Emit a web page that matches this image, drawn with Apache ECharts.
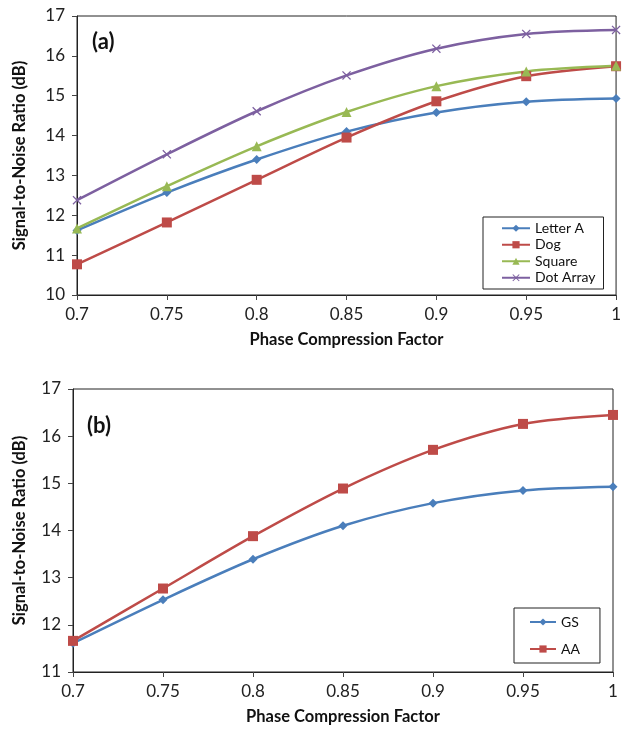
<!DOCTYPE html>
<html>
<head>
<meta charset="utf-8">
<script src="https://cdn.jsdelivr.net/npm/echarts@6/dist/echarts.min.js"></script>
<style>
  html, body { margin: 0; padding: 0; background: #fff; }
  #chart { width: 624px; height: 730px; }
</style>
</head>
<body>
<div id="chart"></div>
<script>
// phase compression factor (x axis)
const factors = ['0.7', '0.75', '0.8', '0.85', '0.9', '0.95', '1']

// panel (a)
const letterA = [11.62, 12.57, 13.40, 14.10, 14.58, 14.85, 14.93]
const dog = [10.77, 11.82, 12.89, 13.95, 14.86, 15.49, 15.74]
const square = [11.67, 12.73, 13.73, 14.59, 15.24, 15.61, 15.75]
const dotArray = [12.38, 13.53, 14.61, 15.51, 16.18, 16.55, 16.65]

// panel (b)
const gs = [11.61, 12.53, 13.39, 14.10, 14.58, 14.85, 14.93]
const aa = [11.66, 12.77, 13.88, 14.89, 15.71, 16.26, 16.45]

const FONT = 'Lato, "Open Sans", sans-serif'
const crossPath = 'path://M0,1L1,0L5,4L9,0L10,1L6,5L10,9L9,10L5,6L1,10L0,9L4,5Z'

function xAxisOf (gridIndex, nameGap) {
  return {
    gridIndex: gridIndex,
    type: 'category',
    data: factors,
    boundaryGap: false,
    name: 'Phase Compression Factor',
    nameLocation: 'middle',
    nameGap: nameGap,
    nameTextStyle: { fontFamily: FONT, fontWeight: 'bold', fontSize: 16.5, color: '#111' },
    axisLine: { lineStyle: { color: '#222', width: 1 } },
    axisTick: { show: true, inside: false, length: 5, lineStyle: { color: '#444' } },
    axisLabel: { fontFamily: FONT, fontSize: 17, color: '#222', margin: 11 },
    splitLine: { show: false }
  }
}

function yAxisOf (gridIndex, min, max, nameGap) {
  return {
    gridIndex: gridIndex,
    type: 'value',
    min: min,
    max: max,
    interval: 1,
    name: 'Signal-to-Noise Ratio (dB)',
    nameLocation: 'middle',
    nameGap: nameGap,
    nameTextStyle: { fontFamily: FONT, fontWeight: 'bold', fontSize: 16.5, color: '#111' },
    axisLine: { show: true, lineStyle: { color: '#222', width: 1 } },
    axisTick: { show: true, inside: false, length: 5, lineStyle: { color: '#444' } },
    axisLabel: { fontFamily: FONT, fontSize: 17, color: '#222', margin: 12 },
    splitLine: { show: false }
  }
}

function lineSeries (name, data, color, symbol, size, axisIdx) {
  return {
    name: name,
    type: 'line',
    xAxisIndex: axisIdx,
    yAxisIndex: axisIdx,
    data: data,
    smooth: 0.3,
    symbol: symbol,
    symbolSize: size,
    showAllSymbol: true,
    lineStyle: { color: color, width: 2.5 },
    itemStyle: { color: color },
    emphasis: { disabled: true }
  }
}

const legendText = { fontFamily: FONT, fontSize: 14, color: '#111' }

const option = {
  animation: false,
  backgroundColor: '#fff',
  title: [
    { text: '(a)', left: 87, top: 26, textStyle: { fontFamily: FONT, fontWeight: 'bold', fontSize: 22, color: '#111' } },
    { text: '(b)', left: 82, top: 410, textStyle: { fontFamily: FONT, fontWeight: 'bold', fontSize: 22, color: '#111' } }
  ],
  grid: [
    { left: 77, top: 16, width: 540, height: 279, show: true, borderColor: '#222', borderWidth: 1, backgroundColor: 'transparent' },
    { left: 73, top: 389, width: 540, height: 283, show: true, borderColor: '#222', borderWidth: 1, backgroundColor: 'transparent' }
  ],
  xAxis: [xAxisOf(0, 36), xAxisOf(1, 36)],
  yAxis: [yAxisOf(0, 10, 17, 49), yAxisOf(1, 11, 17, 45)],
  legend: [
    {
      data: ['Letter A', 'Dog', 'Square', 'Dot Array'],
      orient: 'vertical',
      left: 483,
      top: 217,
      padding: [3, 8, 3, 18],
      itemGap: 0,
      itemWidth: 28,
      itemHeight: 9,
      borderColor: '#222',
      borderWidth: 1,
      backgroundColor: '#fff',
      textStyle: Object.assign({ lineHeight: 16.5 }, legendText)
    },
    {
      data: ['GS', 'AA'],
      orient: 'vertical',
      left: 514,
      top: 608,
      padding: [6, 20, 6, 15],
      itemGap: 11,
      itemWidth: 26,
      itemHeight: 9,
      borderColor: '#222',
      borderWidth: 1,
      backgroundColor: '#fff',
      textStyle: Object.assign({ lineHeight: 16 }, legendText)
    }
  ],
  series: [
    lineSeries('Letter A', letterA, '#4A7EBB', 'diamond', 9, 0),
    lineSeries('Dog', dog, '#BE4B48', 'rect', 10, 0),
    lineSeries('Square', square, '#98B954', 'triangle', 10, 0),
    lineSeries('Dot Array', dotArray, '#7D60A0', crossPath, 9, 0),
    lineSeries('GS', gs, '#4A7EBB', 'diamond', 9, 1),
    lineSeries('AA', aa, '#BE4B48', 'rect', 10, 1)
  ]
}

const myChart = echarts.init(document.getElementById('chart'))
myChart.setOption(option)
</script>
</body>
</html>
